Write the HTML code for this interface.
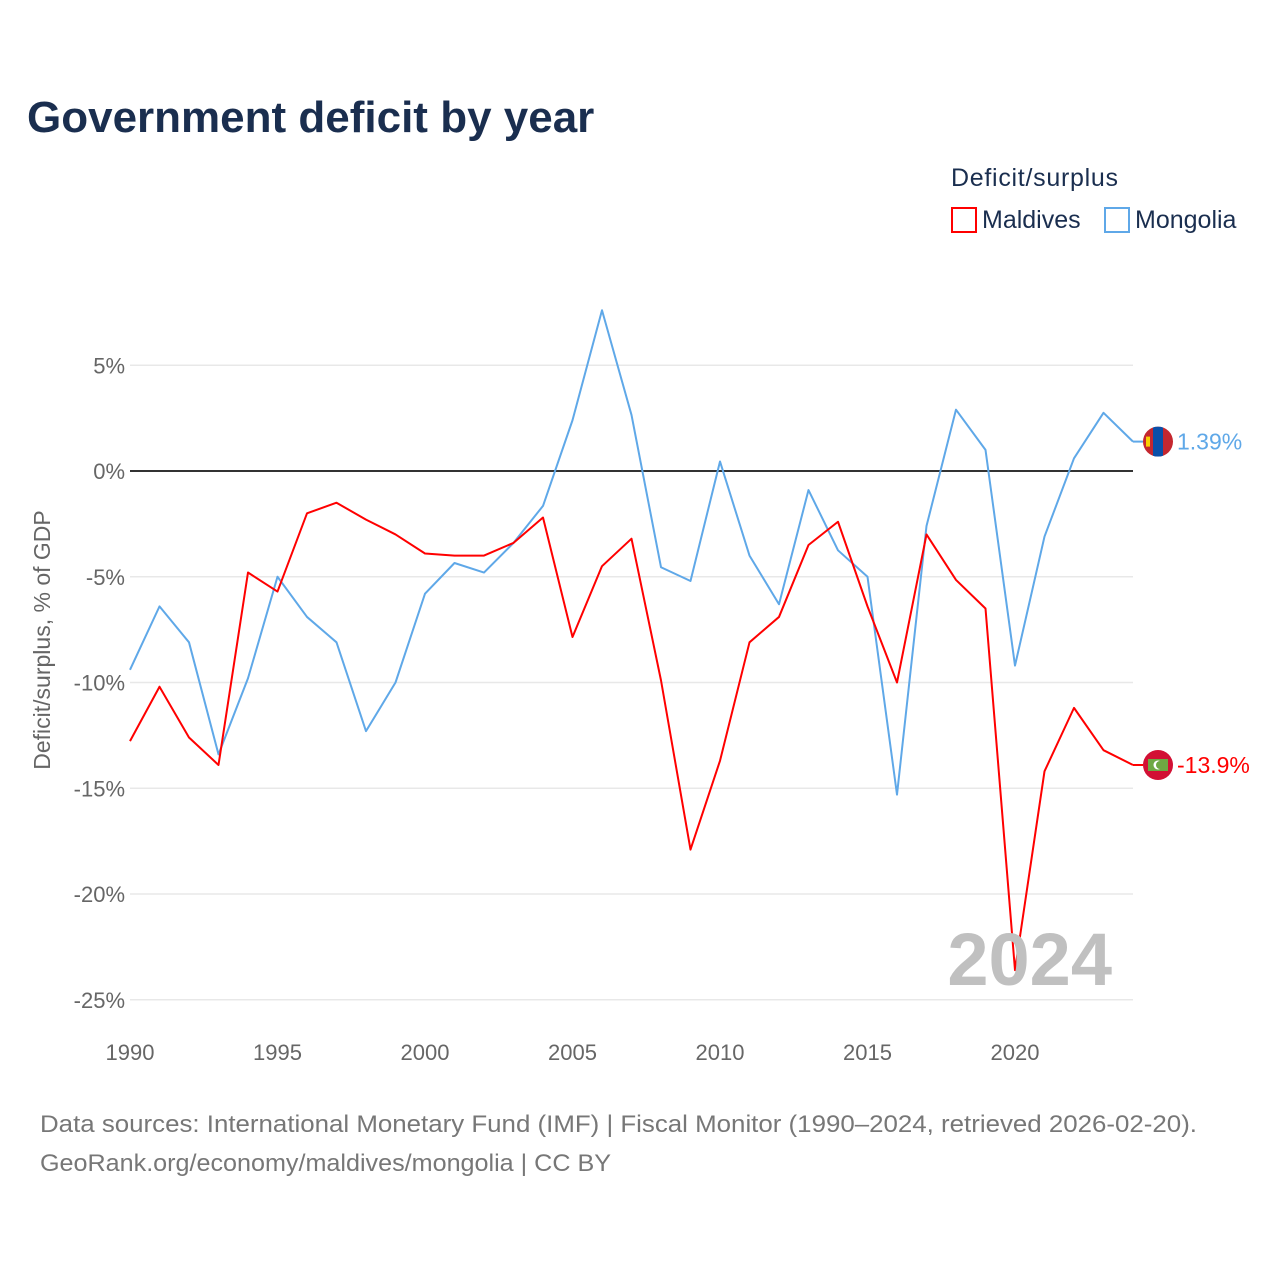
<!DOCTYPE html>
<html><head><meta charset="utf-8">
<style>
body{margin:0;background:#fff;font-family:"Liberation Sans",sans-serif;}
svg text{font-family:"Liberation Sans",sans-serif;}
</style></head>
<body>
<svg width="1280" height="1280" viewBox="0 0 1280 1280">
<text x="27" y="132" font-size="44" font-weight="bold" fill="#1a2e4f">Government deficit by year</text>
<text x="951" y="186" font-size="25" fill="#1a2e4f" textLength="167">Deficit/surplus</text>
<g>
<rect x="952" y="208" width="24" height="24" fill="none" stroke="#f00" stroke-width="2"/>
<text x="982" y="228" font-size="25" fill="#1a2e4f">Maldives</text></g>
<g>
<rect x="1105" y="208" width="24" height="24" fill="none" stroke="#5fa8e8" stroke-width="2"/>
<text x="1135" y="228" font-size="25" fill="#1a2e4f">Mongolia</text></g>
<g id="grid"></g>
<g id="series"></g>
<text x="1112" y="985" font-size="74" font-weight="bold" fill="#c0c0c0" text-anchor="end">2024</text>
<text transform="translate(50,640) rotate(-90)" font-size="23" fill="#666" text-anchor="middle">Deficit/surplus, % of GDP</text>
<text x="40" y="1132" font-size="24" fill="#777" textLength="1157" lengthAdjust="spacingAndGlyphs">Data sources: International Monetary Fund (IMF) | Fiscal Monitor (1990–2024, retrieved 2026-02-20).</text>
<text x="40" y="1171" font-size="24" fill="#777" textLength="571" lengthAdjust="spacingAndGlyphs">GeoRank.org/economy/maldives/mongolia | CC BY</text>
</svg>
<script>
const years=[];for(let y=1990;y<=2024;y++)years.push(y);
const maldives=[-12.77,-10.2,-12.6,-13.9,-4.8,-5.7,-2.0,-1.5,-2.3,-3.0,-3.9,-4.0,-4.0,-3.4,-2.2,-7.85,-4.5,-3.2,-9.9,-17.9,-13.7,-8.1,-6.9,-3.5,-2.4,-6.4,-10.0,-3.0,-5.15,-6.5,-23.6,-14.2,-11.2,-13.2,-13.9];
const mongolia=[-9.4,-6.4,-8.1,-13.4,-9.8,-5.0,-6.9,-8.1,-12.3,-10.0,-5.8,-4.35,-4.8,-3.4,-1.65,2.4,7.6,2.65,-4.55,-5.2,0.45,-4.0,-6.3,-0.9,-3.75,-5.0,-15.3,-2.6,2.9,1.0,-9.2,-3.1,0.6,2.75,1.39];
const yTicks=[5,0,-5,-10,-15,-20,-25];
const xTicks=[1990,1995,2000,2005,2010,2015,2020];
const NS="http://www.w3.org/2000/svg";
const X=y=>130+(y-1990)*(1133-130)/34;
const Y=v=>471-v*21.15;
const g=document.getElementById('grid'),s=document.getElementById('series');
function mk(t,a,p){const e=document.createElementNS(NS,t);for(const k in a)e.setAttribute(k,a[k]);p.appendChild(e);return e;}
yTicks.forEach(v=>{
 const l=mk('line',{x1:130,x2:1133,y1:Y(v),y2:Y(v),stroke:v===0?'#333':'#e8e8e8','stroke-width':v===0?2:1.5},g);
 
 
 const t=mk('text',{x:125,y:Y(v)+8,'font-size':22,fill:'#666','text-anchor':'end'},g);
 t.textContent=v+'%';
 
 
});
xTicks.forEach(v=>{
 const t=mk('text',{x:X(v),y:1060,'font-size':22,fill:'#666','text-anchor':'middle'},g);
 t.textContent=v;
 
 
});
function line(data,color,name){
 const p=mk('polyline',{points:data.map((v,i)=>X(years[i])+','+Y(v)).join(' '),fill:'none',stroke:color,'stroke-width':2,'stroke-linejoin':'round'},s);
 
 
 const last=data[data.length-1];
 const yy=Y(last);
 mk('line',{x1:1133,x2:1143,y1:yy,y2:yy,stroke:color,'stroke-width':2},s);
 const t=mk('text',{x:1177,y:yy+8,'font-size':23,fill:color},s);
 t.textContent=(Math.abs(last)<10?last.toFixed(2):last.toFixed(1))+'%';
 
 
 return yy;
}
const ym=line(mongolia,'#5fa8e8','mongolia-line');
const yd=line(maldives,'#f00','maldives-line');
const fm=mk('g',{},s);


const cp=mk('clipPath',{id:'cm'},fm);
mk('circle',{cx:1158,cy:ym,r:15},cp);
const gm=mk('g',{'clip-path':'url(#cm)'},fm);
mk('rect',{x:1143,y:ym-15,width:30,height:30,fill:'#c4272f'},gm);
mk('rect',{x:1153,y:ym-15,width:10,height:30,fill:'#0a4fa8'},gm);
mk('rect',{x:1146,y:ym-5,width:4,height:10,fill:'#f9cf02'},gm);
const fd=mk('g',{},s);


mk('circle',{cx:1158,cy:yd,r:15,fill:'#d21034'},fd);
mk('rect',{x:1148,y:yd-6,width:20,height:12,fill:'#6ea843'},fd);
mk('circle',{cx:1158,cy:yd,r:4.5,fill:'#fff'},fd);
mk('circle',{cx:1160,cy:yd,r:4,fill:'#6ea843'},fd);
</script>
</body></html>
